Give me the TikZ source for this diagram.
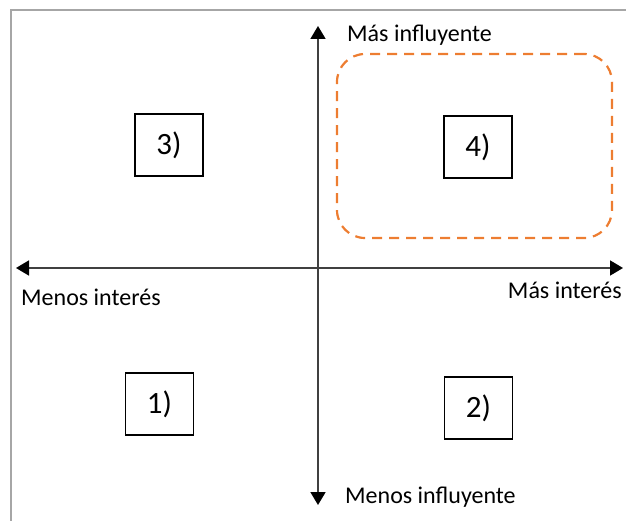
\documentclass[tikz,border=0pt]{standalone}
\usepackage{fontspec}
\setmainfont{Carlito}
\usetikzlibrary{arrows.meta, positioning}
\definecolor{axisgray}{HTML}{404040}
\definecolor{framegray}{HTML}{A6A6A6}
\definecolor{focusorange}{HTML}{ED7D31}
\tikzset{
    quadrant/.style={
        draw, line width=1.6pt,
        minimum width=68pt, minimum height=62pt,
        inner sep=0pt,
        font=\fontsize{31}{36}\selectfont
    },
    axislabel/.style={
        inner sep=0pt,
        font=\fontsize{24}{28}\selectfont
    },
    axis/.style={
        line width=1.8pt, draw=axisgray,
        {Triangle[length=13pt, width=15pt, color=black]}-{Triangle[length=13pt, width=15pt, color=black]},
    },
    focus/.style={
        draw=focusorange, line width=2.2pt,
        dash pattern=on 10pt off 7pt,
        rounded corners=28pt,
        minimum width=275pt, minimum height=184pt,
        inner sep=0pt
    },
}

\begin{document}
\begin{tikzpicture}[x=1pt, y=-1pt]
        \useasboundingbox (0,0) rectangle (626,521);
        \draw[framegray, line width=2pt] (11,540) -- (11,10) -- (650,10);

        % ends of the two axes
        \coordinate (top) at (318,26);
        \coordinate (bottom) at (318,505);
        \coordinate (left) at (16,268);
        \coordinate (right) at (623,268);

        \node[focus] (focus) at (474.5,146) {};

        \draw[axis] (bottom) -- (top);
        \draw[axis] (left) -- (right);

        \node[axislabel, anchor=west] (more infl) at (347,35) {Más influyente};
        \node[axislabel, anchor=west] (less infl) at (345,497) {Menos influyente};
        \node[axislabel, anchor=west] (less int) at (21,297) {Menos interés};
        \node[axislabel, anchor=east] (more int) at (622,290) {Más interés};

        \node[quadrant] (q3) at (169,145) {3)};
        \node[quadrant] (q4) at (478,147) {4)};
        \node[quadrant] (q1) at (159.5,404) {1)};
        \node[quadrant] (q2) at (478.5,408) {2)};
    \end{tikzpicture}
\end{document}
